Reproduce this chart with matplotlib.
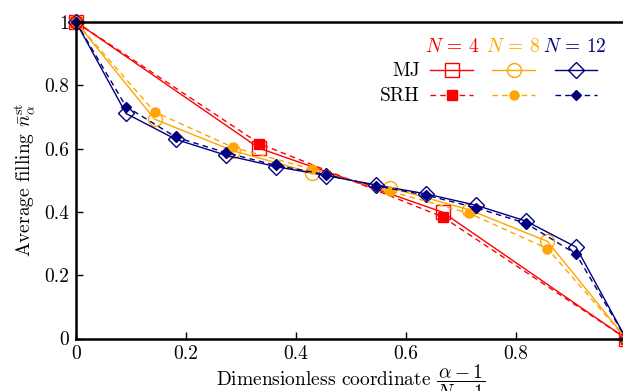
import numpy as np
import matplotlib
matplotlib.use('Agg')
import matplotlib.pyplot as plt

plt.rcParams['font.family'] = 'cmr10'
plt.rcParams['mathtext.fontset'] = 'cm'
plt.rcParams['axes.formatter.use_mathtext'] = True
plt.rcParams['font.size'] = 14

# Positions (alpha-1)/(N-1)
x4 = [0, 1/3, 2/3, 1]
x8 = [0, 1/7, 2/7, 3/7, 4/7, 5/7, 6/7, 1]
x12 = [0, 1/11, 2/11, 3/11, 4/11, 5/11, 6/11, 7/11, 8/11, 9/11, 10/11, 1]

# MJ results
mj4 = [1.0, 0.601, 0.399, 0.0]
mj8 = [1.0, 0.693, 0.593, 0.524, 0.476, 0.407, 0.307, 0.0]
mj12 = [1.0, 0.711, 0.629, 0.579, 0.543, 0.515, 0.485, 0.457, 0.421, 0.371, 0.289, 0.0]

# SRH results
srh4 = [1.0, 0.616, 0.384, 0.0]
srh8 = [1.0, 0.716, 0.604, 0.535, 0.465, 0.396, 0.284, 0.0]
srh12 = [1.0, 0.733, 0.636, 0.587, 0.547, 0.518, 0.482, 0.453, 0.413, 0.364, 0.267, 0.0]

kleur4 = '#ff0000'
kleur8 = '#ffa500'
kleur12 = '#000080'

fig = plt.figure(figsize=(6.23, 3.91), dpi=100)
ax = fig.add_axes([76/623, 52.5/391, 550/623, 316.5/391])

l_mj4, = ax.plot(x4, mj4, '-', color=kleur4, lw=1, marker='s', ms=10, mfc='none', mew=1, clip_on=False)
l_mj8, = ax.plot(x8, mj8, '-', color=kleur8, lw=1, marker='o', ms=10, mfc='none', mew=1, clip_on=False)
l_mj12, = ax.plot(x12, mj12, '-', color=kleur12, lw=1, marker='D', ms=8, mfc='none', mew=1, clip_on=False)

l_srh4, = ax.plot(x4, srh4, '--', color=kleur4, lw=1, marker='s', ms=6.5, dashes=(4, 3), clip_on=False)
l_srh8, = ax.plot(x8, srh8, '--', color=kleur8, lw=1, marker='o', ms=6.5, dashes=(4, 3), clip_on=False)
l_srh12, = ax.plot(x12, srh12, '--', color=kleur12, lw=1, marker='D', ms=5.5, dashes=(4, 3), clip_on=False)

ax.set_xlim(0, 1)
ax.set_ylim(0, 1)
ax.set_xticks([0, 0.2, 0.4, 0.6, 0.8, 1])
ax.set_xticklabels(['0', '0.2', '0.4', '0.6', '0.8', '1'])
ax.set_yticks([0, 0.2, 0.4, 0.6, 0.8, 1])
ax.set_yticklabels(['0', '0.2', '0.4', '0.6', '0.8', '1'])
ax.tick_params(direction='in', length=5, width=1, top=False, right=False, pad=5)
for s in ax.spines.values():
    s.set_linewidth(1.8)

ax.set_xlabel(r'Dimensionless coordinate $\dfrac{\alpha-1}{N-1}$', labelpad=0)
ax.set_ylabel(r'Average filling $\bar{n}_{\alpha}^{\rm st}$', labelpad=5)

# Legenda: 2 rijen x 3 kolommen, labels apart als tekst
leg = ax.legend([l_mj4, l_srh4, l_mj8, l_srh8, l_mj12, l_srh12], [''] * 6,
                ncol=3, frameon=False, handlelength=2.2, handletextpad=0,
                columnspacing=1.0, labelspacing=0.36, borderpad=0, borderaxespad=0,
                loc='upper left', bbox_to_anchor=(0.644, 0.870))

ax.text(0.684, 0.922, r'$N\,=\,4$', color=kleur4, ha='center', va='center', transform=ax.transAxes)
ax.text(0.795, 0.922, r'$N\,=\,8$', color=kleur8, ha='center', va='center', transform=ax.transAxes)
ax.text(0.907, 0.922, r'$N\,=\,12$', color=kleur12, ha='center', va='center', transform=ax.transAxes)
ax.text(0.625, 0.846, 'MJ', ha='right', va='center', transform=ax.transAxes)
ax.text(0.625, 0.767, 'SRH', ha='right', va='center', transform=ax.transAxes)

fig.savefig('out.png', dpi=100)
